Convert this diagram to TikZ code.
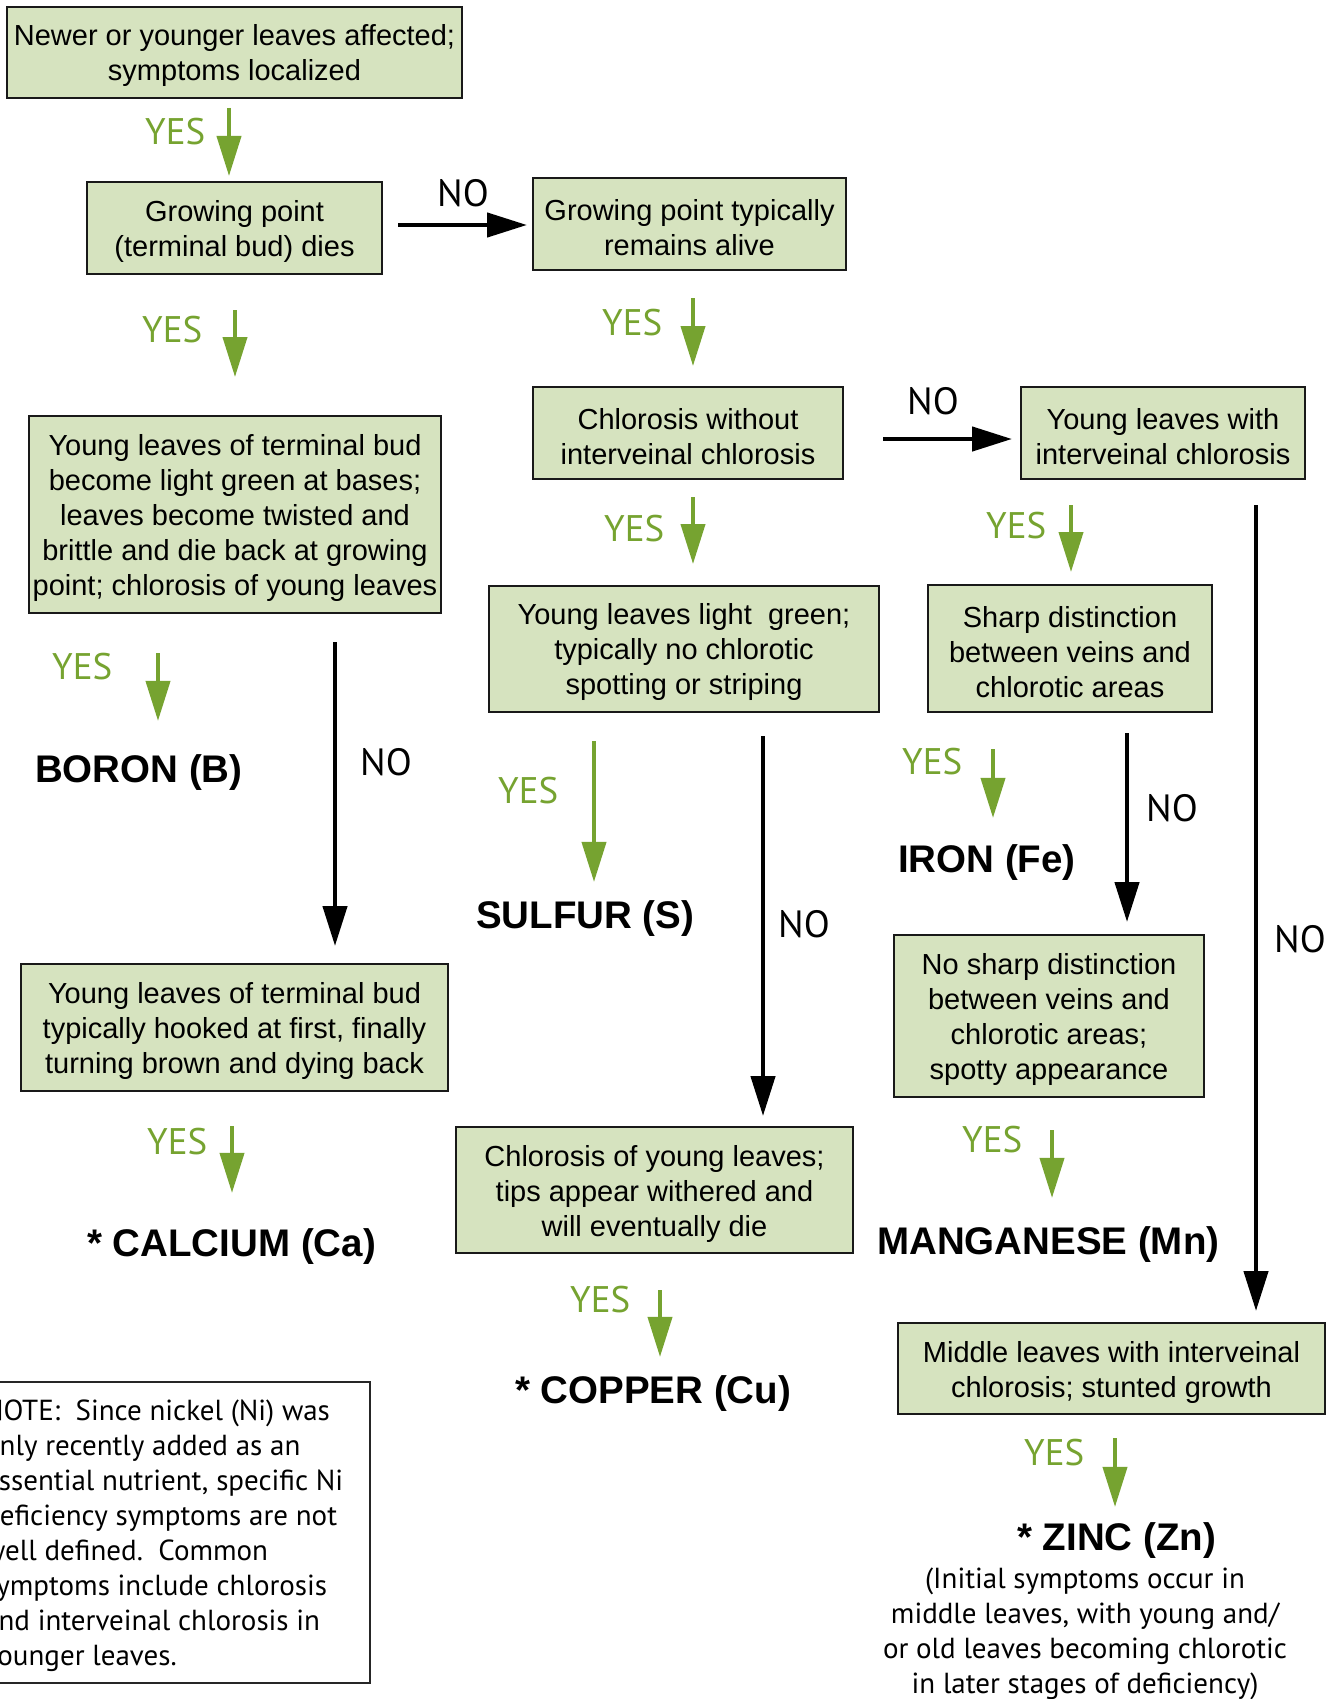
\documentclass[tikz,border=0pt]{standalone}
\usepackage{fontspec}
\setmainfont{Liberation Sans}
\newfontfamily\myr{PT Sans}
\usetikzlibrary{arrows.meta}
\definecolor{boxfill}{RGB}{214,227,191}
\definecolor{yesgreen}{RGB}{118,163,48}
\newcommand\tstr{\rule{0pt}{28pt}}
\begin{document}
\begin{tikzpicture}[x=1pt,y=-1pt,
  box/.style={draw=black!90, line width=2pt, fill=boxfill, inner sep=0pt, align=center,
    font=\fontsize{29}{35}\selectfont},
  yesarrow/.style={draw=yesgreen, line width=4pt, -{Triangle[length=40pt,width=24pt]}, fill=yesgreen},
  noarrow/.style={draw=black, line width=4.5pt, -{Triangle[length=40pt,width=24pt]}},
  yeslabel/.style={anchor=base west, inner sep=0pt, text=yesgreen, font=\myr\fontsize{37}{40}\selectfont},
  nolabel/.style={anchor=base west, inner sep=0pt, font=\myr\fontsize{38}{40}\selectfont},
  result/.style={anchor=base west, inner sep=0pt, font=\bfseries\fontsize{38.5}{44}\selectfont},
  plain/.style={inner sep=0pt, font=\myr\fontsize{29}{35}\selectfont},
]
\path[use as bounding box] (0,0) rectangle (1332,1699);
\clip (0,0) rectangle (1332,1699);
\fill[white] (0,0) rectangle (1332,1699);

% boxes
\node[box, minimum width=455, minimum height=91] (b1) at (234.5,52.5) {\tstr Newer or younger leaves affected;\\symptoms localized};
\node[box, minimum width=295, minimum height=92] (b2) at (234.5,228) {\tstr Growing point\\(terminal bud) dies};
\node[box, minimum width=313, minimum height=92] (b3) at (689.5,224) {\tstr Growing point typically\\remains alive};
\node[box, minimum width=412, minimum height=197] (b4) at (235,514.5) {\tstr Young leaves of terminal bud\\become light green at bases;\\leaves become twisted and\\brittle and die back at growing\\point; chlorosis of young leaves};
\node[box, minimum width=310, minimum height=92] (b5) at (688,433) {\tstr Chlorosis without\\interveinal chlorosis};
\node[box, minimum width=284, minimum height=92] (b6) at (1163,433) {\tstr Young leaves with\\interveinal chlorosis};
\node[box, minimum width=390, minimum height=126] (b7) at (684,649) {\tstr Young leaves light\ \ green;\\typically no chlorotic\\spotting or striping};
\node[box, minimum width=284, minimum height=127] (b8) at (1070,648.5) {\tstr Sharp distinction\\between veins and\\chlorotic areas};
\node[box, minimum width=427, minimum height=127] (b9) at (234.5,1027.5) {\tstr Young leaves of terminal bud\\typically hooked at first, finally\\turning brown and dying back};
\node[box, minimum width=397, minimum height=126] (b10) at (654.5,1190) {\tstr Chlorosis of young leaves;\\tips appear withered and\\will eventually die};
\node[box, minimum width=310, minimum height=162] (b11) at (1049,1016) {\tstr No sharp distinction\\between veins and\\chlorotic areas;\\spotty appearance};
\node[box, minimum width=427, minimum height=91] (b12) at (1111.5,1368.5) {\tstr Middle leaves with interveinal\\chlorosis; stunted growth};

% results
\node[result] (boron) at (35,782) {BORON (B)};
\node[result] (calcium) at (87,1256) {* CALCIUM (Ca)};
\node[result] (sulfur) at (476,928) {SULFUR (S)};
\node[result] (copper) at (515,1403) {* COPPER (Cu)};
\node[result] (iron) at (898,872) {IRON (Fe)};
\node[result] (mn) at (877,1254) {MANGANESE (Mn)};
\node[result] (zinc) at (1017,1550) {* ZINC (Zn)};

\node[plain, anchor=north, align=center] (znote) at (1085,1568) {(Initial symptoms occur in\\middle leaves, with young and/\\or old leaves becoming chlorotic\\in later stages of deficiency)};

% note box
\node[draw=black!85, line width=1.5pt, minimum width=400, minimum height=301, inner sep=0pt] (note) at (170,1532.5) {};
\node[plain, anchor=north west, align=left] (notetext) at (-16,1400) {NOTE:\ \ Since nickel (Ni) was\\only recently added as an\\essential nutrient, specific Ni\\deficiency symptoms are not\\well defined.\ \ Common\\symptoms include chlorosis\\and interveinal chlorosis in\\younger leaves.};

% YES labels
\node[yeslabel] (l1) at (145,145) {YES};
\node[yeslabel] (l2) at (142,342) {YES};
\node[yeslabel] (l3) at (602,335) {YES};
\node[yeslabel] (l4) at (604,541) {YES};
\node[yeslabel] (l5) at (986,538) {YES};
\node[yeslabel] (l6) at (52,679) {YES};
\node[yeslabel] (l7) at (147,1154) {YES};
\node[yeslabel] (l8) at (498,803) {YES};
\node[yeslabel] (l9) at (570,1312) {YES};
\node[yeslabel] (l10) at (902,774) {YES};
\node[yeslabel] (l11) at (962,1152) {YES};
\node[yeslabel] (l12) at (1024,1465) {YES};

% NO labels
\node[nolabel] (m1) at (437,207) {NO};
\node[nolabel] (m2) at (907,414) {NO};
\node[nolabel] (m3) at (360,775) {NO};
\node[nolabel] (m4) at (778,937) {NO};
\node[nolabel] (m5) at (1146,821) {NO};
\node[nolabel] (m6) at (1274,952) {NO};

% arrow start coordinates
\coordinate (y1) at (229,108);
\coordinate (y2) at (235,310);
\coordinate (y3) at (693,298);
\coordinate (y4) at (693,497);
\coordinate (y5) at (1071,505);
\coordinate (y6) at (158,653);
\coordinate (y7) at (232,1126);
\coordinate (ys) at (594,741);
\coordinate (yc) at (660,1290);
\coordinate (yi) at (993,749);
\coordinate (ym) at (1052,1130);
\coordinate (yz) at (1115,1438);
\coordinate (n1) at (398,225);
\coordinate (n2) at (883,439);
\coordinate (nb) at (335,642);
\coordinate (ns) at (763,736);
\coordinate (nf) at (1127,733);
\coordinate (nr) at (1256,505);

% YES arrows
\draw[yesarrow, shorten >=5pt] (y1) -- (y1 |- b2.north);
\draw[yesarrow, shorten >=38pt] (y2) -- (y2 |- b4.north);
\draw[yesarrow, shorten >=20pt] (y3) -- (y3 |- b5.north);
\draw[yesarrow, shorten >=21pt] (y4) -- (y4 |- b7.north);
\draw[yesarrow, shorten >=12pt] (y5) -- (y5 |- b8.north);
\draw[yesarrow, shorten >=33pt] (y6) -- (y6 |- boron.north);
\draw[yesarrow, shorten >=35pt] (y7) -- (y7 |- calcium.north);
\draw[yesarrow, shorten >=18pt] (ys) -- (ys |- sulfur.north);
\draw[yesarrow, shorten >=18pt] (yc) -- (yc |- copper.north);
\draw[yesarrow, shorten >=26pt] (yi) -- (yi |- iron.north);
\draw[yesarrow, shorten >=28pt] (ym) -- (ym |- mn.north);
\draw[yesarrow, shorten >=15pt] (yz) -- (yz |- zinc.north);

% NO arrows
\draw[noarrow, shorten >=5pt] (n1) -- (n1 -| b3.west);
\draw[noarrow, shorten >=8pt] (n2) -- (n2 -| b6.west);
\draw[noarrow, shorten >=17pt] (nb) -- (nb |- b9.north);
\draw[noarrow, shorten >=10pt] (ns) -- (ns |- b10.north);
\draw[noarrow, shorten >=12pt] (nf) -- (nf |- b11.north);
\draw[noarrow, shorten >=11pt] (nr) -- (nr |- b12.north);
\end{tikzpicture}
\end{document}
